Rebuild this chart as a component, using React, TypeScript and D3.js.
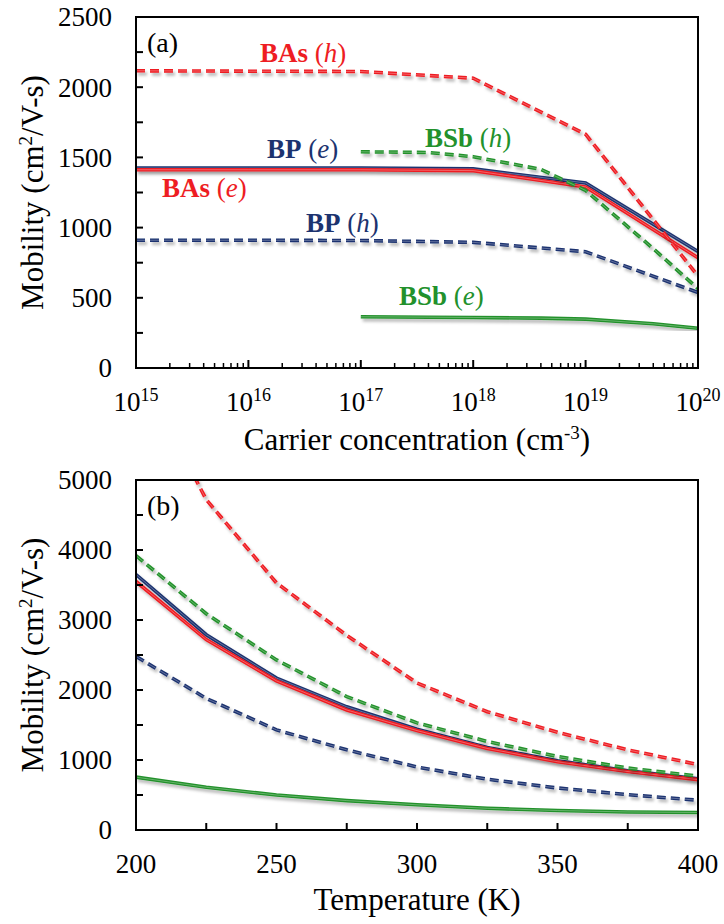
import React from "react";
import * as d3 from "d3";

// ---------- Data ----------
const concFull = [1e15, 1e16, 1e17, 1e18, 1e19, 1e20];
const basHoleConc = [2117, 2114, 2112, 2064, 1665, 655];
const bpElecConc = [1424, 1424, 1424, 1418, 1318, 830];
const basElecConc = [1412, 1412, 1412, 1406, 1290, 785];
const bpHoleConc = [910, 910, 908, 895, 828, 538];
const concBSb = [1e17, 4e17, 1e18, 4e18, 1e19, 4e19, 1e20];
const bsbHoleConc = [1540, 1535, 1505, 1415, 1265, 850, 565];
const bsbElecConc = [365, 362, 360, 355, 348, 315, 283];

const temps = [200, 225, 250, 275, 300, 325, 350, 375, 400];
const basHoleT = [6650, 4720, 3530, 2780, 2100, 1690, 1395, 1145, 935];
const bsbHoleT = [3920, 3090, 2430, 1905, 1530, 1265, 1050, 885, 770];
const bpElecT = [3650, 2790, 2170, 1760, 1440, 1180, 990, 845, 730];
const basElecT = [3550, 2720, 2130, 1715, 1420, 1165, 975, 835, 720];
const bpHoleT = [2480, 1880, 1430, 1145, 900, 725, 600, 505, 425];
const bsbElecT = [755, 610, 500, 420, 360, 310, 278, 258, 250];

const topYTicks = [0, 500, 1000, 1500, 2000, 2500];
const botYTicks = [0, 1000, 2000, 3000, 4000, 5000];
const botXTicks = [200, 250, 300, 350, 400];
const decadeExps = [15, 16, 17, 18, 19, 20];

const RED = "#ee1d23";
const NAVY = "#1c336f";
const GREEN = "#22912c";
const FONT = '"Liberation Serif", "DejaVu Serif", serif';

// ---------- Scales ----------
const L = 136, R = 698;
const topX = d3.scaleLog().domain([1e15, 1e20]).range([L, R]);
const topY = d3.scaleLinear().domain([0, 2500]).range([368, 17]);
const botX = d3.scaleLinear().domain([200, 400]).range([L, R]);
const botY = d3.scaleLinear().domain([0, 5000]).range([830, 480]);

type Series = { xs: number[]; ys: number[]; color: string; dashed: boolean };

function Lines({ series, sx, sy, clip }: { series: Series[]; sx: any; sy: any; clip: string }) {
  const gen = d3.line<[number, number]>().x((d) => sx(d[0])).y((d) => sy(d[1]));
  return (
    <g clipPath={`url(#${clip})`}>
      {series.map((s, i) => {
        const d = gen(s.xs.map((x, j) => [x, s.ys[j]] as [number, number])) || "";
        return (
          <g key={i}>
            <path d={d} fill="none" stroke={s.color} strokeWidth={3.6}
              strokeDasharray={s.dashed ? "9,5" : undefined} filter="url(#shadow)" />
            <path d={d} fill="none" stroke="#ffffff" strokeOpacity={0.35} strokeWidth={0.9}
              strokeDasharray={s.dashed ? "9,5" : undefined} />
          </g>
        );
      })}
    </g>
  );
}

function Label({ x, y, name, carrier, color }: { x: number; y: number; name: string; carrier: string; color: string }) {
  return (
    <text x={x} y={y} fill={color} style={{ fontFamily: FONT, fontSize: 27 }}>
      <tspan fontWeight="bold">{name}</tspan>
      <tspan> (</tspan>
      <tspan fontStyle="italic">{carrier}</tspan>
      <tspan>)</tspan>
    </text>
  );
}

export default function App() {
  const topSeries: Series[] = [
    { xs: concFull, ys: bpElecConc, color: NAVY, dashed: false },
    { xs: concFull, ys: basElecConc, color: RED, dashed: false },
    { xs: concFull, ys: bpHoleConc, color: NAVY, dashed: true },
    { xs: concBSb, ys: bsbElecConc, color: GREEN, dashed: false },
    { xs: concBSb, ys: bsbHoleConc, color: GREEN, dashed: true },
    { xs: concFull, ys: basHoleConc, color: RED, dashed: true },
  ];
  const botSeries: Series[] = [
    { xs: temps, ys: bsbElecT, color: GREEN, dashed: false },
    { xs: temps, ys: bpHoleT, color: NAVY, dashed: true },
    { xs: temps, ys: bpElecT, color: NAVY, dashed: false },
    { xs: temps, ys: basElecT, color: RED, dashed: false },
    { xs: temps, ys: bsbHoleT, color: GREEN, dashed: true },
    { xs: temps, ys: basHoleT, color: RED, dashed: true },
  ];

  const minorLog: number[] = [];
  for (let e = 15; e < 20; e++) for (let m = 2; m <= 9; m++) minorLog.push(m * Math.pow(10, e));
  const topYMinor = d3.range(250, 2500, 500);
  const botYMinor = d3.range(500, 5000, 1000);
  const botXAll = d3.range(225, 400, 25);

  const tickLen = 7;
  const txt = (size: number) => ({ fontFamily: FONT, fontSize: size });

  return (
    <svg width={724} height={924} style={{ position: "absolute", left: 0, top: 0, background: "#fff", fontFamily: FONT }}>
      <defs>
        <filter id="shadow" x="-10%" y="-10%" width="120%" height="130%">
          <feDropShadow dx={2} dy={3} stdDeviation={1.6} floodColor="#000" floodOpacity={0.28} />
        </filter>
        <clipPath id="clipTop"><rect x={L} y={17} width={R - L} height={368 - 17} /></clipPath>
        <clipPath id="clipBot"><rect x={L} y={480} width={R - L} height={830 - 480} /></clipPath>
      </defs>
      <rect width={724} height={924} fill="#fff" />

      {/* ---------- Panel (a) ---------- */}
      <Lines series={topSeries} sx={topX} sy={topY} clip="clipTop" />
      <rect x={L} y={17} width={R - L} height={368 - 17} fill="none" stroke="#000" strokeWidth={2} />
      {topYTicks.map((v) => (
        <g key={"ty" + v}>
          <line x1={L} x2={L + tickLen} y1={topY(v)} y2={topY(v)} stroke="#000" strokeWidth={2} />
          <text x={112} y={topY(v)} dy="0.35em" textAnchor="end" style={txt(27)}>{v}</text>
        </g>
      ))}
      {topYMinor.map((v) => (
        <line key={"tym" + v} x1={L} x2={L + tickLen} y1={topY(v)} y2={topY(v)} stroke="#000" strokeWidth={2} />
      ))}
      {decadeExps.map((e) => (
        <g key={"tx" + e}>
          <line x1={topX(Math.pow(10, e))} x2={topX(Math.pow(10, e))} y1={368} y2={360} stroke="#000" strokeWidth={2} />
          <text x={topX(Math.pow(10, e))} y={411} textAnchor="middle" style={txt(27)}>
            <tspan>10</tspan>
            <tspan dy={-10} style={txt(18)}>{e}</tspan>
          </text>
        </g>
      ))}
      {minorLog.map((v, i) => (
        <line key={"txm" + i} x1={topX(v)} x2={topX(v)} y1={368} y2={363} stroke="#000" strokeWidth={1.5} />
      ))}
      <text x={(L + R) / 2} y={450} textAnchor="middle" style={txt(31)}>
        <tspan>Carrier concentration (cm</tspan>
        <tspan dy={-11} style={txt(19)}>-3</tspan>
        <tspan dy={11}>)</tspan>
      </text>
      <text transform={`translate(43, ${(17 + 368) / 2}) rotate(-90)`} textAnchor="middle" style={txt(31)}>
        <tspan>Mobility (cm</tspan>
        <tspan dy={-11} style={txt(19)}>2</tspan>
        <tspan dy={11}>/V-s)</tspan>
      </text>
      <text x={147} y={52} style={txt(28)}>(a)</text>
      <Label x={260} y={62} name="BAs" carrier="h" color={RED} />
      <Label x={267} y={158} name="BP" carrier="e" color={NAVY} />
      <Label x={425} y={147} name="BSb" carrier="h" color={GREEN} />
      <Label x={162} y={197} name="BAs" carrier="e" color={RED} />
      <Label x={306} y={232} name="BP" carrier="h" color={NAVY} />
      <Label x={399} y={305} name="BSb" carrier="e" color={GREEN} />

      {/* ---------- Panel (b) ---------- */}
      <Lines series={botSeries} sx={botX} sy={botY} clip="clipBot" />
      <rect x={L} y={480} width={R - L} height={830 - 480} fill="none" stroke="#000" strokeWidth={2} />
      {botYTicks.map((v) => (
        <g key={"by" + v}>
          <line x1={L} x2={L + tickLen} y1={botY(v)} y2={botY(v)} stroke="#000" strokeWidth={2} />
          <text x={112} y={botY(v)} dy="0.35em" textAnchor="end" style={txt(27)}>{v}</text>
        </g>
      ))}
      {botYMinor.map((v) => (
        <line key={"bym" + v} x1={L} x2={L + tickLen} y1={botY(v)} y2={botY(v)} stroke="#000" strokeWidth={2} />
      ))}
      {botXAll.map((v) => (
        <line key={"bx" + v} x1={botX(v)} x2={botX(v)} y1={830} y2={830 - tickLen} stroke="#000" strokeWidth={2} />
      ))}
      {botXTicks.map((v) => (
        <text key={"bxl" + v} x={botX(v)} y={873} textAnchor="middle" style={txt(27)}>{v}</text>
      ))}
      <text x={(L + R) / 2} y={910} textAnchor="middle" style={txt(31)}>Temperature (K)</text>
      <text transform={`translate(43, ${(480 + 830) / 2}) rotate(-90)`} textAnchor="middle" style={txt(31)}>
        <tspan>Mobility (cm</tspan>
        <tspan dy={-11} style={txt(19)}>2</tspan>
        <tspan dy={11}>/V-s)</tspan>
      </text>
      <text x={147} y={515} style={txt(28)}>(b)</text>
    </svg>
  );
}
